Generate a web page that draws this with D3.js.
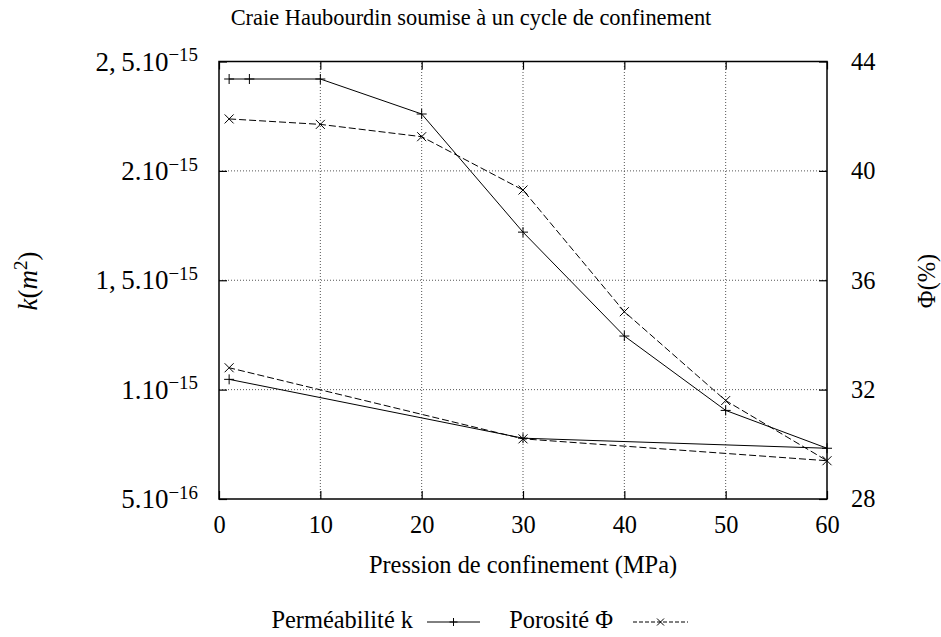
<!DOCTYPE html>
<html>
<head>
<meta charset="utf-8">
<script src="https://cdn.jsdelivr.net/npm/d3@7"></script>
<style>
  body { margin: 0; background: #fff; }
  svg text { font-family: "Liberation Serif", "DejaVu Serif", "Noto Serif", serif; fill: #000; }
</style>
</head>
<body>
<svg id="chart" width="941" height="637"></svg>
<script>
// data
const kPressure = [1, 3, 10, 20, 30, 40, 50, 60, 30, 1];
const kValues = [2.42e-15, 2.42e-15, 2.42e-15, 2.26e-15, 1.72e-15, 1.245e-15, 0.905e-15, 0.732e-15, 0.778e-15, 1.047e-15];
const phiPressure = [1, 10, 20, 30, 40, 50, 60, 30, 1];
const phiValues = [41.9, 41.7, 41.25, 39.3, 34.85, 31.6, 29.4, 30.2, 32.8];

const xTicks = [0, 10, 20, 30, 40, 50, 60];
const kTicks = [5e-16, 1e-15, 1.5e-15, 2e-15, 2.5e-15];
const kTickMantissa = ["5.10", "1.10", "1,\u20095.10", "2.10", "2,\u20095.10"];
const kTickExponent = ["\u221216", "\u221215", "\u221215", "\u221215", "\u221215"];
const phiTicks = [28, 32, 36, 40, 44];

const svg = d3.select("#chart");
const plotLeft = 219, plotRight = 827, plotTop = 61.5, plotBottom = 499;

const x = d3.scaleLinear().domain([0, 60]).range([plotLeft, plotRight]);
const yK = d3.scaleLinear().domain([5e-16, 2.5e-15]).range([plotBottom, plotTop]);
const yPhi = d3.scaleLinear().domain([28, 44]).range([plotBottom, plotTop]);

// grid
const grid = svg.append("g").attr("stroke", "#555").attr("stroke-width", 1)
  .attr("stroke-dasharray", "1,2");
xTicks.slice(1, -1).forEach(t => {
  grid.append("line").attr("x1", x(t)).attr("x2", x(t)).attr("y1", plotBottom).attr("y2", plotTop);
});
kTicks.slice(1, -1).forEach(t => {
  grid.append("line").attr("x1", plotLeft).attr("x2", plotRight).attr("y1", yK(t)).attr("y2", yK(t));
});

// axes (ticks pointing inward)
const fs = 24.4;
svg.append("g").attr("transform", `translate(0,${plotBottom})`)
  .call(d3.axisBottom(x).tickValues(xTicks).tickSizeInner(-8).tickSizeOuter(0).tickPadding(17));
svg.append("g").attr("transform", `translate(0,${plotTop})`)
  .call(d3.axisTop(x).tickValues(xTicks).tickSizeInner(-8).tickSizeOuter(0).tickFormat(""));

svg.append("g").attr("transform", `translate(${plotRight},0)`)
  .call(d3.axisRight(yPhi).tickValues(phiTicks).tickSizeInner(-8).tickSizeOuter(0).tickPadding(24));

const kAxis = svg.append("g").attr("class", "kaxis").attr("transform", `translate(${plotLeft},0)`)
  .call(d3.axisLeft(yK).tickValues(kTicks).tickSizeInner(-8).tickSizeOuter(0).tickPadding(21));

svg.selectAll(".domain").remove();
svg.selectAll(".tick line").attr("stroke", "#000").attr("stroke-width", 1.2);
svg.selectAll("g").attr("font-family", null);
svg.selectAll(".tick text").attr("font-size", fs);

kAxis.selectAll(".tick text").attr("font-size", 27).each(function(d, i) {
  const t = d3.select(this).text(null);
  t.append("tspan").text(kTickMantissa[i]);
  t.append("tspan").attr("dy", "-0.5em").attr("font-size", "0.7em").text(kTickExponent[i]);
});

// frame
svg.append("rect").attr("x", plotLeft).attr("y", plotTop)
  .attr("width", plotRight - plotLeft).attr("height", plotBottom - plotTop)
  .attr("fill", "none").attr("stroke", "#000").attr("stroke-width", 1.5);

// lines
const kData = kPressure.map((p, i) => ({ p, v: kValues[i] }));
const phiData = phiPressure.map((p, i) => ({ p, v: phiValues[i] }));

svg.append("path").datum(kData)
  .attr("fill", "none").attr("stroke", "#000").attr("stroke-width", 1)
  .attr("d", d3.line().x(d => x(d.p)).y(d => yK(d.v)));
svg.append("path").datum(phiData)
  .attr("fill", "none").attr("stroke", "#000").attr("stroke-width", 1)
  .attr("stroke-dasharray", "7,3")
  .attr("d", d3.line().x(d => x(d.p)).y(d => yPhi(d.v)));

function plus(g, cx, cy, s) {
  g.append("path").attr("d", `M${cx - s},${cy}H${cx + s}M${cx},${cy - s}V${cy + s}`)
    .attr("stroke", "#000").attr("stroke-width", 1).attr("fill", "none");
}
function cross(g, cx, cy, s) {
  g.append("path").attr("d", `M${cx - s},${cy - s}L${cx + s},${cy + s}M${cx - s},${cy + s}L${cx + s},${cy - s}`)
    .attr("stroke", "#000").attr("stroke-width", 1).attr("fill", "none");
}
const marks = svg.append("g");
kData.forEach(d => plus(marks, x(d.p), yK(d.v), 5));
phiData.forEach(d => cross(marks, x(d.p), yPhi(d.v), 4.5));

// titles
svg.append("text").attr("x", 471).attr("y", 25).attr("text-anchor", "middle")
  .attr("font-size", 22.4).text("Craie Haubourdin soumise \u00e0 un cycle de confinement");
svg.append("text").attr("x", 523).attr("y", 573).attr("text-anchor", "middle")
  .attr("font-size", fs).text("Pression de confinement (MPa)");

const kLabel = svg.append("text").attr("transform", "translate(37,281) rotate(-90)")
  .attr("text-anchor", "middle").attr("font-size", 27);
kLabel.append("tspan").attr("font-style", "italic").text("k");
kLabel.append("tspan").text("(");
kLabel.append("tspan").attr("font-style", "italic").text("m");
kLabel.append("tspan").attr("dy", "-0.55em").attr("font-size", "0.7em").text("2");
kLabel.append("tspan").attr("dy", "0.385em").text(")");

svg.append("text").attr("transform", "translate(935,281) rotate(-90)")
  .attr("text-anchor", "middle").attr("font-size", fs).text("\u03a6(%)");

// legend
const leg = svg.append("g");
leg.append("text").attr("x", 413).attr("y", 628).attr("text-anchor", "end")
  .attr("font-size", fs).text("Perm\u00e9abilit\u00e9 k");
leg.append("line").attr("x1", 427).attr("x2", 480).attr("y1", 622).attr("y2", 622)
  .attr("stroke", "#000").attr("stroke-width", 1);
plus(leg, 453.5, 622, 4);
leg.append("text").attr("x", 613).attr("y", 628).attr("text-anchor", "end")
  .attr("font-size", fs).text("Porosit\u00e9 \u03a6");
leg.append("line").attr("x1", 633).attr("x2", 688).attr("y1", 622).attr("y2", 622)
  .attr("stroke", "#000").attr("stroke-width", 1).attr("stroke-dasharray", "4,2");
cross(leg, 660.5, 622, 3.5);
</script>
</body>
</html>
